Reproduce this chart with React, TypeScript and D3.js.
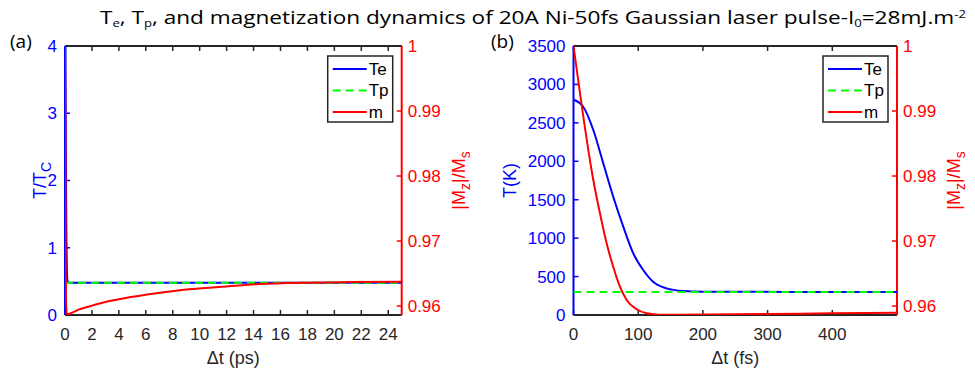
import * as d3 from "d3";

// panel (a): time in ps, temperature as T/Tc, magnetisation |Mz|/Ms
const aTime = [0, 0.03, 0.05, 0.08, 0.1, 0.12, 0.15, 0.2, 0.3, 25];
const aTe = [4.47, 4.3, 3.15, 1.83, 1.28, 0.93, 0.6, 0.5, 0.48, 0.48];
const aTpTime = [0, 25];
const aTp = [0.478, 0.478];
const aMTime = [0, 0.02, 0.04, 0.06, 0.08, 0.1, 0.13, 0.4, 1, 1.9, 3, 4.4, 6.8, 9.2, 11.7, 14.2, 17.9, 21, 25];
const aM = [1, 0.9943, 0.9794, 0.9655, 0.9609, 0.9595, 0.9587, 0.95885, 0.95944, 0.96, 0.96062, 0.96119, 0.96196, 0.96257, 0.96297, 0.96334, 0.96359, 0.96368, 0.96374];

// panel (b): time in fs, temperature in K
const bTime = [0, 15, 30.6, 46, 61.4, 76.9, 92.3, 107.7, 123, 143.8, 169.4, 200, 500];
const bTe = [2800, 2710, 2407, 1974, 1539, 1149, 803, 585, 433, 347, 312, 302, 300];
const bTpTime = [0, 500];
const bTp = [300, 300];
const bMTime = [0, 12.6, 30.6, 40.9, 51.2, 61.4, 71.8, 82.1, 97.5, 113, 133, 200, 300, 400, 500];
const bM = [1, 0.99092, 0.97939, 0.97426, 0.96965, 0.96605, 0.96297, 0.96093, 0.9595, 0.95888, 0.95866, 0.95868, 0.95878, 0.95888, 0.95898];

// tick values
const aXTicks = [0, 2, 4, 6, 8, 10, 12, 14, 16, 18, 20, 22, 24];
const aYTicks = [0, 1, 2, 3, 4];
const bXTicks = [0, 100, 200, 300, 400];
const bYTicks = [0, 500, 1000, 1500, 2000, 2500, 3000, 3500];
const rTicks = [0.96, 0.97, 0.98, 0.99, 1];

const BLUE = "#0000ff";
const RED = "#ff0000";
const GREEN = "#00ff00";
const DARK = "#262626";
const TICKFONT = "'Liberation Sans', Arial, sans-serif";
const TITLEFONT = "'Open Sans', 'Noto Sans', sans-serif";

const zip = (t: number[], v: number[]) => t.map((d, i) => [d, v[i]] as [number, number]);

function Panel({ id, x0, x1, y0, y1, xMax, yMax, xTicks, yTicks, te, tp, m, xLabel, yLabel, tag }: any) {
  const x = d3.scaleLinear().domain([0, xMax]).range([x0, x1]);
  const y = d3.scaleLinear().domain([0, yMax]).range([y1, y0]);
  const r = d3.scaleLinear().domain([0.95862, 1]).range([y1, y0]);

  const lineL = d3.line<[number, number]>().x(d => x(d[0])).y(d => y(d[1])).curve(d3.curveMonotoneX);
  const lineR = d3.line<[number, number]>().x(d => x(d[0])).y(d => r(d[1])).curve(d3.curveMonotoneX);

  const tk = 5;
  const midY = (y0 + y1) / 2;
  const lx = x1 - 69;

  return (
    <g>
      <defs>
        <clipPath id={id}>
          <rect x={x0} y={y0} width={x1 - x0} height={y1 - y0} />
        </clipPath>
      </defs>
      <rect x={x0} y={y0} width={x1 - x0} height={y1 - y0} fill="white" />

      {/* x ticks top and bottom */}
      {xTicks.map((t: number) => (
        <g key={"x" + t}>
          <line x1={x(t)} x2={x(t)} y1={y1} y2={y1 - tk} stroke={DARK} strokeWidth={1.5} />
          <line x1={x(t)} x2={x(t)} y1={y0} y2={y0 + tk} stroke={DARK} strokeWidth={1.5} />
          <text x={x(t)} y={y1 + 25} textAnchor="middle" fontSize={17} fontFamily={TICKFONT} fill={DARK}>{t}</text>
        </g>
      ))}
      {/* left ticks */}
      {yTicks.map((t: number) => (
        <g key={"y" + t}>
          <line x1={x0} x2={x0 + tk} y1={y(t)} y2={y(t)} stroke={BLUE} strokeWidth={1.5} />
          <text x={x0 - 8} y={y(t)} dy="0.35em" textAnchor="end" fontSize={17} fontFamily={TICKFONT} fill={BLUE}>{t}</text>
        </g>
      ))}
      {/* right ticks */}
      {rTicks.map((t: number) => (
        <g key={"r" + t}>
          <line x1={x1} x2={x1 - tk} y1={r(t)} y2={r(t)} stroke={RED} strokeWidth={1.5} />
          <text x={x1 + 6} y={r(t)} dy="0.35em" textAnchor="start" fontSize={17} fontFamily={TICKFONT} fill={RED}>{t === 1 ? "1" : t.toFixed(2)}</text>
        </g>
      ))}

      {/* frame */}
      <line x1={x0} x2={x1} y1={y0} y2={y0} stroke={DARK} strokeWidth={2} />
      <line x1={x0} x2={x1} y1={y1} y2={y1} stroke={DARK} strokeWidth={2} />
      <line x1={x0} x2={x0} y1={y0} y2={y1} stroke={BLUE} strokeWidth={2} />
      <line x1={x1} x2={x1} y1={y0} y2={y1} stroke={RED} strokeWidth={2} />

      {/* curves */}
      <g clipPath={`url(#${id})`} fill="none" strokeWidth={2}>
        <path d={lineL(te) as string} stroke={BLUE} />
        <path d={lineL(tp) as string} stroke={GREEN} strokeDasharray="8,5" />
        <path d={lineR(m) as string} stroke={RED} />
      </g>

      {/* legend */}
      <rect x={lx - 5} y={y0 + 10} width={65} height={66} fill="white" stroke={DARK} strokeWidth={1.5} />
      {[
        { n: "Te", c: BLUE, dash: "" },
        { n: "Tp", c: GREEN, dash: "8,5" },
        { n: "m", c: RED, dash: "" },
      ].map((e, i) => (
        <g key={e.n}>
          <line x1={lx} x2={lx + 34} y1={y0 + 23 + i * 21.5} y2={y0 + 23 + i * 21.5} stroke={e.c} strokeWidth={2} strokeDasharray={e.dash} />
          <text x={lx + 36} y={y0 + 23 + i * 21.5} dy="0.35em" fontSize={17} fontFamily={TICKFONT} fill="#000">{e.n}</text>
        </g>
      ))}

      {/* axis labels */}
      <text x={(x0 + x1) / 2} y={y1 + 49} textAnchor="middle" fontSize={18} fontFamily={TICKFONT} fill={DARK}>{xLabel}</text>
      {yLabel}
      <text transform={`translate(${x1 + 63},${midY}) rotate(-90)`} textAnchor="middle" fontSize={18} fontFamily={TICKFONT} fill={RED}>
        |M<tspan fontSize={14} dy={5}>z</tspan><tspan dy={-5}>|/M</tspan><tspan fontSize={14} dy={5}>s</tspan>
      </text>
      <text x={tag.x} y={y0 + 2} fontSize={19} fontFamily={TITLEFONT} fill="#000">{tag.t}</text>
    </g>
  );
}

export default function App() {
  const y0 = 46;
  const y1 = 315;
  return (
    <svg width={975} height={371} style={{ display: "block", position: "absolute", left: 0, top: 0 }}>
      <rect width={975} height={371} fill="white" />
      <text x={100} y={24} fontSize={19} fontFamily={TITLEFONT} fill="#000" textLength={866} lengthAdjust="spacingAndGlyphs">
        T<tspan fontSize={11} dy={3}>e</tspan><tspan dy={-3}>, T</tspan><tspan fontSize={11} dy={3}>p</tspan><tspan dy={-3}>, and magnetization dynamics of 20A Ni-50fs Gaussian laser pulse-I</tspan><tspan fontSize={11} dy={3}>0</tspan><tspan dy={-3}>=28mJ.m</tspan><tspan fontSize={11} dy={-6}>-2</tspan>
      </text>
      <Panel
        id="clipA" x0={65} x1={401.7} y0={y0} y1={y1} xMax={25} yMax={4}
        xTicks={aXTicks} yTicks={aYTicks}
        te={zip(aTime, aTe)} tp={zip(aTpTime, aTp)} m={zip(aMTime, aM)}
        xLabel="Δt (ps)"
        tag={{ x: 10, t: "(a)" }}
        yLabel={
          <text transform={`translate(46,${(y0 + y1) / 2}) rotate(-90)`} textAnchor="middle" fontSize={18} fontFamily={TICKFONT} fill={BLUE}>
            T/T<tspan fontSize={14} dy={5}>C</tspan>
          </text>
        }
      />
      <Panel
        id="clipB" x0={573.5} x1={897} y0={y0} y1={y1} xMax={500} yMax={3500}
        xTicks={bXTicks} yTicks={bYTicks}
        te={zip(bTime, bTe)} tp={zip(bTpTime, bTp)} m={zip(bMTime, bM)}
        xLabel="Δt (fs)"
        tag={{ x: 491, t: "(b)" }}
        yLabel={
          <text transform={`translate(516,${(y0 + y1) / 2}) rotate(-90)`} textAnchor="middle" fontSize={18} fontFamily={TICKFONT} fill={BLUE}>
            T(K)
          </text>
        }
      />
    </svg>
  );
}
